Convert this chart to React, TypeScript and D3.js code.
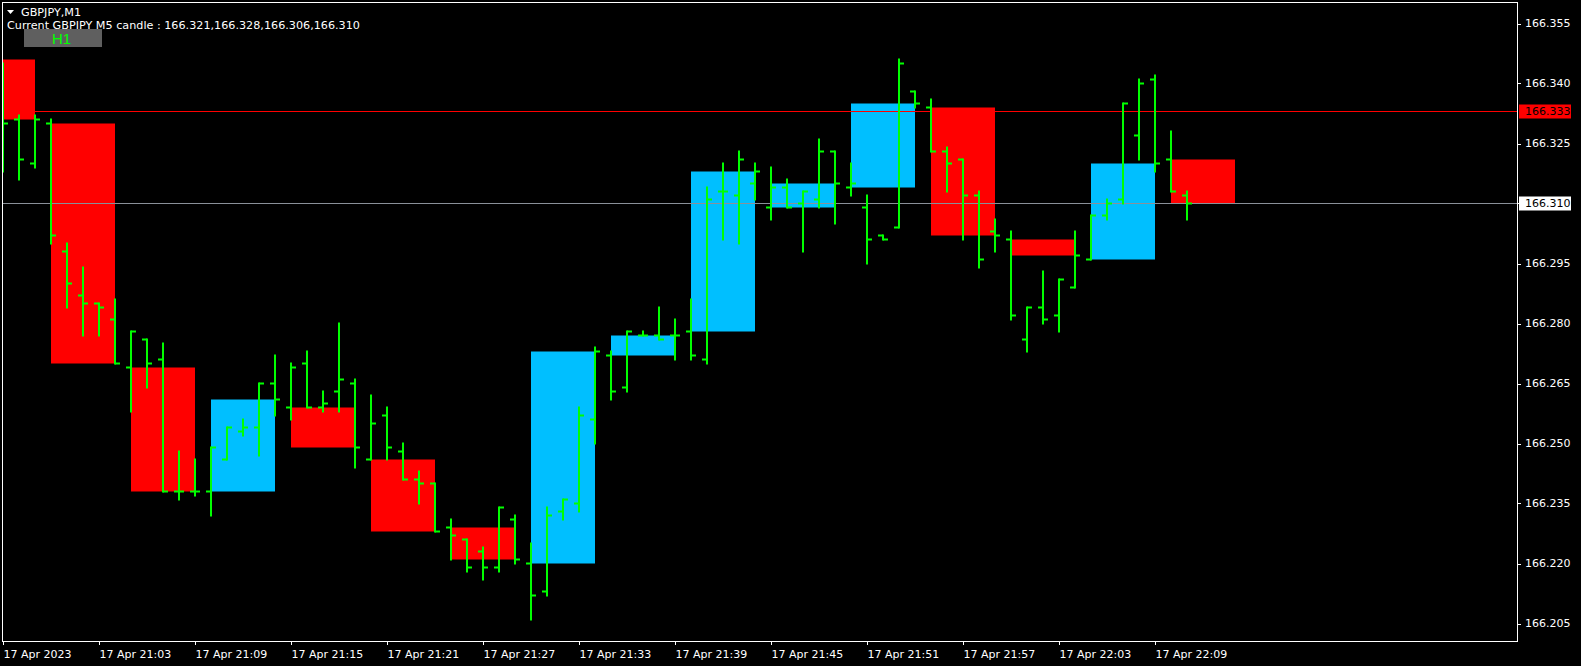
import * as d3 from "d3";
import React from "react";

// M1 bars, 20:57 .. 22:11 (17 Apr 2023)
const m1Open = [
  166.333, 166.331, 166.320, 166.330, 166.298, 166.287, 166.285, 166.281, 166.269, 166.276,
  166.271, 166.238, 166.238, 166.238, 166.246, 166.253, 166.254, 166.265, 166.259, 166.270,
  166.259, 166.263, 166.265, 166.246, 166.257, 166.248, 166.241, 166.240, 166.229, 166.226,
  166.223, 166.219, 166.231, 166.220, 166.213, 166.233, 166.235, 166.256, 166.272, 166.264,
  166.277, 166.277, 166.277, 166.278, 166.271, 166.313, 166.312, 166.315, 166.309, 166.314,
  166.310, 166.311, 166.323, 166.314, 166.309, 166.302, 166.304, 166.338, 166.334, 166.323,
  166.321, 166.312, 166.303, 166.301, 166.276, 166.284, 166.282, 166.289, 166.296, 166.307,
  166.311, 166.327, 166.341, 166.321, 166.312,
];
const m1High = [
  166.345, 166.332, 166.332, 166.331, 166.300, 166.294, 166.285, 166.286, 166.278, 166.276,
  166.275, 166.248, 166.246, 166.249, 166.254, 166.256, 166.265, 166.272, 166.270, 166.273,
  166.263, 166.280, 166.266, 166.262, 166.259, 166.250, 166.243, 166.240, 166.231, 166.226,
  166.224, 166.234, 166.232, 166.225, 166.234, 166.236, 166.259, 166.274, 166.273, 166.278,
  166.278, 166.284, 166.281, 166.286, 166.314, 166.320, 166.323, 166.320, 166.319, 166.316,
  166.313, 166.326, 166.323, 166.320, 166.312, 166.302, 166.346, 166.338, 166.336, 166.324,
  166.321, 166.313, 166.306, 166.303, 166.284, 166.293, 166.291, 166.303, 166.307, 166.311,
  166.335, 166.341, 166.342, 166.328, 166.313,
];
const m1Low = [
  166.318, 166.316, 166.319, 166.300, 166.284, 166.277, 166.277, 166.270, 166.258, 166.264,
  166.238, 166.236, 166.237, 166.232, 166.246, 166.252, 166.247, 166.257, 166.256, 166.259,
  166.258, 166.258, 166.244, 166.246, 166.246, 166.241, 166.235, 166.228, 166.221, 166.218,
  166.216, 166.218, 166.220, 166.206, 166.212, 166.231, 166.233, 166.250, 166.261, 166.263,
  166.277, 166.276, 166.271, 166.271, 166.270, 166.301, 166.300, 166.311, 166.306, 166.309,
  166.298, 166.309, 166.305, 166.312, 166.295, 166.301, 166.304, 166.334, 166.323, 166.313,
  166.301, 166.294, 166.298, 166.281, 166.273, 166.280, 166.278, 166.289, 166.296, 166.306,
  166.310, 166.321, 166.318, 166.313, 166.306,
];
const m1Close = [
  166.330, 166.321, 166.331, 166.302, 166.290, 166.285, 166.284, 166.270, 166.278, 166.270,
  166.238, 166.238, 166.238, 166.249, 166.254, 166.254, 166.265, 166.261, 166.269, 166.259,
  166.260, 166.266, 166.249, 166.255, 166.249, 166.241, 166.240, 166.228, 166.227, 166.219,
  166.219, 166.234, 166.221, 166.212, 166.232, 166.236, 166.257, 166.273, 166.263, 166.278,
  166.277, 166.276, 166.277, 166.272, 166.311, 166.313, 166.321, 166.318, 166.314, 166.309,
  166.313, 166.323, 166.315, 166.315, 166.301, 166.301, 166.345, 166.335, 166.323, 166.320,
  166.312, 166.296, 166.302, 166.282, 166.284, 166.281, 166.291, 166.297, 166.307, 166.310,
  166.335, 166.340, 166.320, 166.313, 166.310,
];

// M5 candles 20:55 .. 22:10 (body only)
const m5Open = [
  166.346, 166.330, 166.269, 166.238, 166.259, 166.246, 166.229, 166.220,
  166.272, 166.278, 166.309, 166.314, 166.334, 166.301, 166.296, 166.321,
];
const m5Close = [
  166.331, 166.270, 166.238, 166.261, 166.249, 166.228, 166.221, 166.273,
  166.277, 166.318, 166.315, 166.335, 166.302, 166.297, 166.320, 166.310,
];

const priceTicks = [166.355, 166.34, 166.325, 166.31, 166.295, 166.28, 166.265, 166.25, 166.235, 166.22, 166.205];
const timeLabels = [
  "17 Apr 2023", "17 Apr 21:03", "17 Apr 21:09", "17 Apr 21:15", "17 Apr 21:21",
  "17 Apr 21:27", "17 Apr 21:33", "17 Apr 21:39", "17 Apr 21:45", "17 Apr 21:51",
  "17 Apr 21:57", "17 Apr 22:03", "17 Apr 22:09",
];
const levelLine = 166.333;
const bidPrice = 166.31;
const headerText = "Current GBPJPY M5 candle : 166.321,166.328,166.306,166.310";

const W = 1581;
const H = 666;
const plot = { left: 2, right: 1517, top: 2, bottom: 641 };

const App: React.FC = () => {
  const x = d3.scaleLinear().domain([0, 1]).range([3, 19]);
  const y = d3.scaleLinear().domain([166.355, 166.205]).range([23.5, 623.5]);
  const font = "Tahoma, 'DejaVu Sans', sans-serif";

  return (
    <svg width={W} height={H} style={{ position: "fixed", left: 0, top: 0, background: "#000" }}>
      <defs>
        <clipPath id="plot-clip">
          <rect x={plot.left + 1} y={plot.top + 1} width={plot.right - plot.left - 1} height={plot.bottom - plot.top - 1} />
        </clipPath>
      </defs>
      <rect width={W} height={H} fill="#000" />

      <g clipPath="url(#plot-clip)">
        {/* M5 candle bodies */}
        {m5Open.map((o, k) => {
          const c = m5Close[k];
          const x0 = x(5 * k - 2);
          const x1 = x(5 * k + 2);
          const top = y(Math.max(o, c));
          const bot = y(Math.min(o, c));
          return (
            <rect key={"c" + k} x={x0} y={top} width={x1 - x0} height={Math.max(bot - top, 1)}
              fill={c >= o ? "#00BFFF" : "#FF0000"} />
          );
        })}

        <line x1={plot.left} x2={plot.right} y1={y(levelLine)} y2={y(levelLine)} stroke="#FF0000" strokeWidth={1} />
        <line x1={plot.left} x2={plot.right} y1={y(bidPrice)} y2={y(bidPrice)} stroke="#8a9099" strokeWidth={1} />

        {/* M1 OHLC bars */}
        {m1Open.map((o, i) => {
          const cx = x(i);
          return (
            <g key={"b" + i} stroke="#00FF00" strokeWidth={2}>
              <line x1={cx} x2={cx} y1={y(m1High[i]) - 1} y2={y(m1Low[i]) + 1} />
              <line x1={cx - 5} x2={cx} y1={y(o)} y2={y(o)} />
              <line x1={cx} x2={cx + 5} y1={y(m1Close[i])} y2={y(m1Close[i])} />
            </g>
          );
        })}
      </g>

      {/* frame */}
      <rect x={plot.left + 0.5} y={plot.top + 0.5} width={plot.right - plot.left} height={plot.bottom - plot.top}
        fill="none" stroke="#fff" strokeWidth={1} />

      {/* price axis */}
      {priceTicks.map((p) => (
        <g key={"p" + p}>
          <line x1={plot.right + 0.5} x2={plot.right + 4} y1={Math.round(y(p)) + 0.5} y2={Math.round(y(p)) + 0.5} stroke="#fff" />
          <text x={plot.right + 8} y={y(p)} dy="0.35em" fill="#fff" fontFamily={font} fontSize={11}>
            {p.toFixed(3)}
          </text>
        </g>
      ))}
      <rect x={plot.right + 2} y={y(levelLine) - 7} width={52} height={14} fill="#FF0000" />
      <text x={plot.right + 8} y={y(levelLine)} dy="0.35em" fill="#000" fontFamily={font} fontSize={11}>
        {levelLine.toFixed(3)}
      </text>
      <rect x={plot.right + 2} y={y(bidPrice) - 7} width={52} height={14} fill="#fff" />
      <text x={plot.right + 8} y={y(bidPrice)} dy="0.35em" fill="#000" fontFamily={font} fontSize={11}>
        {bidPrice.toFixed(3)}
      </text>

      {/* time axis */}
      {timeLabels.map((t, j) => {
        const tx = Math.round(x(j * 6)) + 0.5;
        return (
          <g key={"t" + j}>
            <line x1={tx} x2={tx} y1={plot.bottom + 0.5} y2={plot.bottom + 4} stroke="#fff" />
            <text x={tx} y={658} fill="#fff" fontFamily={font} fontSize={11}>{t}</text>
          </g>
        );
      })}

      {/* header */}
      <path d="M7,10 L14,10 L10.5,14 Z" fill="#fff" />
      <text x={21} y={16} fill="#fff" fontFamily={font} fontSize={11.2}>GBPJPY,M1</text>
      <text x={7} y={29} fill="#fff" fontFamily={font} fontSize={11.2}>{headerText}</text>
      <rect x={24} y={29} width={78} height={18} fill="#5f5f5f" />
      <text x={61.5} y={44} fill="#00FF00" textAnchor="middle" fontFamily="Arial, 'Liberation Sans', sans-serif" fontSize={15}>H1</text>
    </svg>
  );
};

export default App;
